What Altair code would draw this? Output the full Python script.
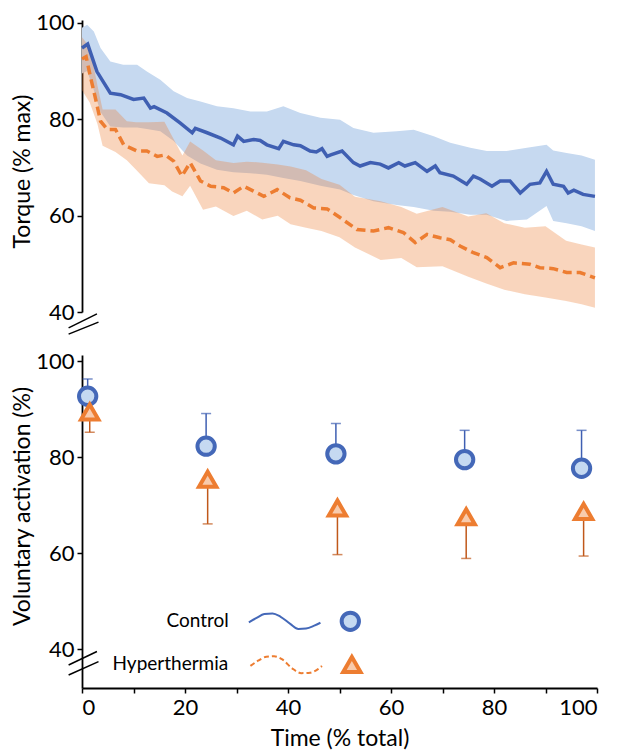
import altair as alt
import pandas as pd

# ---------------- top panel: torque (% max) ----------------
ctrl_t = [0, 1.1, 2.9, 5.5, 7.5, 10, 12, 13.3, 14, 16.5, 19.1, 21.4, 22, 24.3, 26.9, 29.4, 30.2,
          31.4, 33.3, 34.6, 35.9, 38.2, 39.1, 41.1, 42.4, 44.3, 45.5, 46.6, 47.6, 48.3, 50.5, 52.7,
          54, 56, 57.9, 59.5, 61.5, 62.7, 64.7, 67, 68.6, 69.5, 72.1, 74.7, 76, 77.3, 79.6, 81.2,
          83.1, 85.1, 87, 88.9, 90.2, 91.5, 93.5, 94.4, 95.5, 97.3, 99.6]
ctrl_torque = [94.8, 95.6, 89.9, 85.4, 85.1, 84.1, 84.4, 82.3, 82.6, 81.3, 79.2, 77.2, 78.1, 77.2,
               76.1, 74.7, 76.5, 75.4, 75.8, 75.6, 74.7, 73.9, 75.4, 74.7, 74.5, 73.4, 73.2, 73.9,
               72.3, 72.6, 73.4, 71.0, 70.3, 71.0, 70.7, 69.9, 71.0, 70.3, 71.0, 69.2, 70.3, 68.9,
               68.2, 66.5, 68.2, 67.6, 66.1, 67.2, 67.2, 64.7, 66.5, 66.8, 69.2, 66.5, 66.1, 64.7,
               65.3, 64.4, 64.0]

hyp_t = [0, 0.8, 1.6, 2.3, 3.6, 4.9, 6.5, 8.1, 10.7, 12.6, 14.6, 16.2, 17.8, 19.4, 21, 23, 25,
         27.5, 29.4, 31.4, 33.3, 35.3, 37.9, 40.4, 42.4, 45, 47.6, 50.1, 53.4, 56.6, 59.5, 62.4,
         64.7, 67, 69.5, 71.5, 73.4, 76, 78.6, 81.2, 83.8, 87, 88.9, 91.5, 94.1, 96.7, 99.6]
hyp_torque = [92.5, 93.0, 89.0, 85.8, 79.6, 77.9, 77.9, 74.7, 73.4, 73.4, 72.3, 72.6, 71.3, 68.2,
              71.0, 67.2, 66.1, 65.8, 64.7, 66.1, 65.1, 64.0, 65.4, 63.7, 63.2, 61.6, 61.4, 59.6,
              57.1, 56.8, 57.5, 56.5, 54.4, 56.1, 55.4, 55.0, 53.7, 52.3, 51.3, 49.2, 50.2, 49.9,
              49.2, 49.0, 48.2, 48.2, 47.1]

ctrl_band_t = [0, 1, 2.3, 3.6, 5.5, 8, 10.7, 12.6, 15.2, 17.8, 20.4, 23, 26.2, 29.4, 32.7, 35.9,
               39.1, 42.4, 46.3, 50.1, 52.7, 56.6, 61.1, 64.4, 68.3, 71.5, 75.4, 78.6, 82.4, 86.4,
               90.2, 91.5, 94.1, 97, 99.6]
ctrl_band_hi = [99.0, 99.6, 98.2, 94.8, 92.0, 91.3, 91.3, 89.9, 88.2, 85.8, 84.4, 83.7, 82.7, 82.3,
                81.6, 81.6, 82.7, 81.3, 80.3, 79.9, 78.2, 77.2, 77.5, 77.8, 76.5, 75.1, 74.1, 73.4,
                73.4, 74.1, 74.7, 73.5, 73.0, 72.5, 71.6]
ctrl_band_lo = [89.5, 90.0, 86.0, 81.5, 78.5, 78.3, 78.3, 78.0, 77.5, 75.5, 72.5, 70.8, 69.5, 69.0,
                68.8, 68.5, 67.8, 67.2, 66.2, 65.4, 64.3, 63.0, 62.2, 61.8, 61.0, 60.8, 60.2, 60.2,
                58.9, 59.2, 62.0, 58.9, 58.4, 57.8, 56.8]

hyp_band_t = [0, 1.5, 3, 4, 6.5, 8.7, 10.5, 13, 16, 17.5, 19.5, 21, 23.5, 26, 29.4, 32, 35, 38,
              40.5, 43.5, 46.5, 50, 53, 58, 62, 65, 70, 75, 78.5, 82, 86, 90, 94, 97, 99.6]
hyp_band_hi = [97.0, 95.0, 87.0, 82.0, 82.0, 79.6, 79.4, 79.4, 79.5, 76.5, 72.5, 75.4, 73.5, 71.5,
               70.9, 71.2, 71.0, 70.6, 70.2, 69.4, 67.6, 66.4, 63.9, 63.0, 61.8, 60.4, 61.8, 59.8,
               60.5, 58.4, 57.5, 57.8, 54.8, 54.0, 53.4]
hyp_band_lo = [86.0, 83.5, 79.0, 74.5, 73.2, 71.5, 69.5, 66.7, 66.3, 65.0, 64.0, 66.2, 61.2, 61.9,
               59.9, 61.0, 59.2, 60.0, 58.2, 57.5, 56.8, 55.5, 53.4, 50.8, 51.2, 49.3, 49.5, 47.3,
               45.9, 44.6, 43.7, 43.0, 42.3, 41.6, 40.9]

# ---------------- bottom panel: voluntary activation (%) ----------------
va_t_ctrl = [1.1, 24.1, 49.3, 74.3, 97.0]
va_ctrl = [92.7, 82.3, 80.7, 79.5, 77.7]
va_ctrl_sd = [3.6, 6.8, 6.3, 6.1, 7.9]
va_t_hyp = [1.5, 24.4, 49.6, 74.6, 97.4]
va_hyp = [89.4, 75.4, 69.4, 67.6, 68.7]
va_hyp_sd = [4.2, 9.3, 9.7, 8.7, 9.3]

# legend (drawn inside the lower panel, data units)
legend_labels = ["Control", "Hyperthermia"]
legend_label_t = [28.5, 28.4]
legend_label_v = [45.8, 37.0]
legend_marker_t = [52.1, 52.4]
legend_marker_v = [45.8, 36.8]
wave_ctrl_t = [32.4, 33.9, 35.4, 37.0, 38.5, 40.5, 42.0, 43.5, 45.1, 46.3]
wave_ctrl_v = [45.6, 46.5, 47.3, 47.45, 46.8, 45.2, 44.2, 44.3, 44.9, 45.5]
wave_hyp_t = [32.7, 34.2, 35.8, 37.3, 38.9, 40.8, 42.6, 44.3, 45.9, 46.6]
wave_hyp_v = [36.5, 37.6, 38.4, 38.5, 37.85, 36.0, 35.0, 35.1, 35.9, 36.5]

# axis-break marks "//"
brk_top_t1, brk_top_t2 = [-2.6, -2.6], [2.9, 3.2]
brk_top_v1, brk_top_v2 = [36.7, 35.4], [39.6, 37.9]
brk_bot_t1, brk_bot_t2 = [-2.6, -2.6], [2.9, 3.2]
brk_bot_v1, brk_bot_v2 = [36.7, 34.6], [39.5, 37.4]

FONT = "Lato"
BLUE = "#3F5FB2"
ORANGE = "#ED7D31"
DARK_ORANGE = "#C0581A"
W = 515

ctrl_line_df = pd.DataFrame({"t": ctrl_t, "v": ctrl_torque})
hyp_line_df = pd.DataFrame({"t": hyp_t, "v": hyp_torque})
ctrl_band_df = pd.DataFrame({"t": ctrl_band_t, "lo": ctrl_band_lo, "hi": ctrl_band_hi})
hyp_band_df = pd.DataFrame({"t": hyp_band_t, "lo": hyp_band_lo, "hi": hyp_band_hi})

xs = alt.Scale(domain=[0, 100], nice=False, zero=False)
ys_top = alt.Scale(domain=[40, 100.6], nice=False, zero=False)
ys_bot = alt.Scale(domain=[31.9, 101.3], nice=False, zero=False)

ax_common = dict(values=[40, 60, 80, 100], tickSize=5, labelPadding=3, titleX=-60, titleY=151,
                 titleBaseline="middle", titleAngle=270)
yax_top = alt.Axis(title="Torque (% max)", **ax_common)
yax_bot = alt.Axis(title="Voluntary activation (%)", **ax_common)
xax_bot = alt.Axis(title="Time (% total)", values=list(range(0, 101, 10)), tickSize=5,
                   labelExpr="datum.value % 20 == 0 ? datum.label : ''", labelPadding=4,
                   titleY=50, titleBaseline="middle")

def xt(field="t"):
    return alt.X(f"{field}:Q", scale=xs, axis=None)

def yt(field):
    return alt.Y(f"{field}:Q", scale=ys_top, axis=yax_top)

ctrl_band = alt.Chart(ctrl_band_df).mark_area(color="#C6D9F0", opacity=1).encode(
    x=xt(), y=yt("lo"), y2="hi")
hyp_band = alt.Chart(hyp_band_df).mark_area(color=ORANGE, opacity=0.32).encode(
    x=xt(), y=yt("lo"), y2="hi")
ctrl_line = alt.Chart(ctrl_line_df).mark_line(color=BLUE, strokeWidth=3.5).encode(
    x=xt(), y=yt("v"))
hyp_line = alt.Chart(hyp_line_df).mark_line(color=ORANGE, strokeWidth=3.5, strokeDash=[9, 5]).encode(
    x=xt(), y=yt("v"))
brk_top_df = pd.DataFrame({"t1": brk_top_t1, "t2": brk_top_t2, "v1": brk_top_v1, "v2": brk_top_v2})
brk_top = alt.Chart(brk_top_df).mark_rule(color="black", strokeWidth=1.5).encode(
    x=xt("t1"), x2="t2", y=yt("v1"), y2="v2")

top = alt.layer(ctrl_band, hyp_band, ctrl_line, hyp_line, brk_top).properties(width=W, height=292)

# bottom
ctrl_pts_df = pd.DataFrame({"t": va_t_ctrl, "v": va_ctrl,
                            "e": [a + b for a, b in zip(va_ctrl, va_ctrl_sd)]})
hyp_pts_df = pd.DataFrame({"t": va_t_hyp, "v": va_hyp,
                           "e": [a - b for a, b in zip(va_hyp, va_hyp_sd)]})

def xb(field="t"):
    return alt.X(f"{field}:Q", scale=xs, axis=xax_bot)

def yb(field):
    return alt.Y(f"{field}:Q", scale=ys_bot, axis=yax_bot)

ctrl_err = alt.Chart(ctrl_pts_df).mark_rule(color=BLUE, strokeWidth=1.5).encode(
    x=xb(), y=yb("v"), y2="e")
ctrl_cap = alt.Chart(ctrl_pts_df).mark_tick(color=BLUE, thickness=1.5, size=10,
                                            orient="horizontal").encode(x=xb(), y=yb("e"))
hyp_err = alt.Chart(hyp_pts_df).mark_rule(color=DARK_ORANGE, strokeWidth=1.5).encode(
    x=xb(), y=yb("v"), y2="e")
hyp_cap = alt.Chart(hyp_pts_df).mark_tick(color=DARK_ORANGE, thickness=1.5, size=10,
                                          orient="horizontal").encode(x=xb(), y=yb("e"))

circ_style = dict(shape="circle", filled=True, fill="#C5D9F1", stroke="#4468B8",
                  strokeWidth=4, size=300, opacity=1)
tri_style = dict(shape="triangle-up", filled=True, fill="#F8CBAD", stroke=ORANGE,
                 strokeWidth=4, size=300, opacity=1)

ctrl_pts = alt.Chart(ctrl_pts_df).mark_point(**circ_style).encode(x=xb(), y=yb("v"))
hyp_pts = alt.Chart(hyp_pts_df).mark_point(**tri_style).encode(x=xb(), y=yb("v"))

leg_mk_df = pd.DataFrame({"t": legend_marker_t, "v": legend_marker_v, "k": legend_labels})
leg_ctrl_pt = alt.Chart(leg_mk_df.iloc[[0]]).mark_point(**circ_style).encode(x=xb(), y=yb("v"))
leg_hyp_pt = alt.Chart(leg_mk_df.iloc[[1]]).mark_point(**tri_style).encode(x=xb(), y=yb("v"))

wave_c = alt.Chart(pd.DataFrame({"t": wave_ctrl_t, "v": wave_ctrl_v})).mark_line(
    color="#4468B8", strokeWidth=2, interpolate="monotone").encode(x=xb(), y=yb("v"))
wave_h = alt.Chart(pd.DataFrame({"t": wave_hyp_t, "v": wave_hyp_v})).mark_line(
    color=ORANGE, strokeWidth=2, strokeDash=[5, 3], interpolate="monotone").encode(x=xb(), y=yb("v"))

leg_txt = alt.Chart(pd.DataFrame({"t": legend_label_t, "v": legend_label_v, "k": legend_labels})).mark_text(
    align="right", baseline="middle", font=FONT, fontSize=19, color="black").encode(
    x=xb(), y=yb("v"), text="k:N")

brk_bot_df = pd.DataFrame({"t1": brk_bot_t1, "t2": brk_bot_t2, "v1": brk_bot_v1, "v2": brk_bot_v2})
brk_bot = alt.Chart(brk_bot_df).mark_rule(color="black", strokeWidth=1.5).encode(
    x=xb("t1"), x2="t2", y=yb("v1"), y2="v2")

bottom = alt.layer(ctrl_err, ctrl_cap, hyp_err, hyp_cap, ctrl_pts, hyp_pts,
                   wave_c, wave_h, leg_ctrl_pt, leg_hyp_pt, leg_txt, brk_bot).properties(
    width=W, height=333)

chart = alt.vconcat(top, bottom, spacing=43, bounds="flush").properties(
    padding={"left": 3, "top": 3, "right": 2, "bottom": 2}
).configure_view(stroke=None).configure_axis(
    labelFont=FONT, titleFont=FONT, labelFontSize=22, titleFontSize=23,
    labelColor="black", titleColor="black", titleFontWeight="normal",
    domainColor="black", domainWidth=1.8, tickColor="black", tickWidth=1.5, grid=False
)

chart.save("out.html", embed_options={"renderer": "svg", "actions": False})
